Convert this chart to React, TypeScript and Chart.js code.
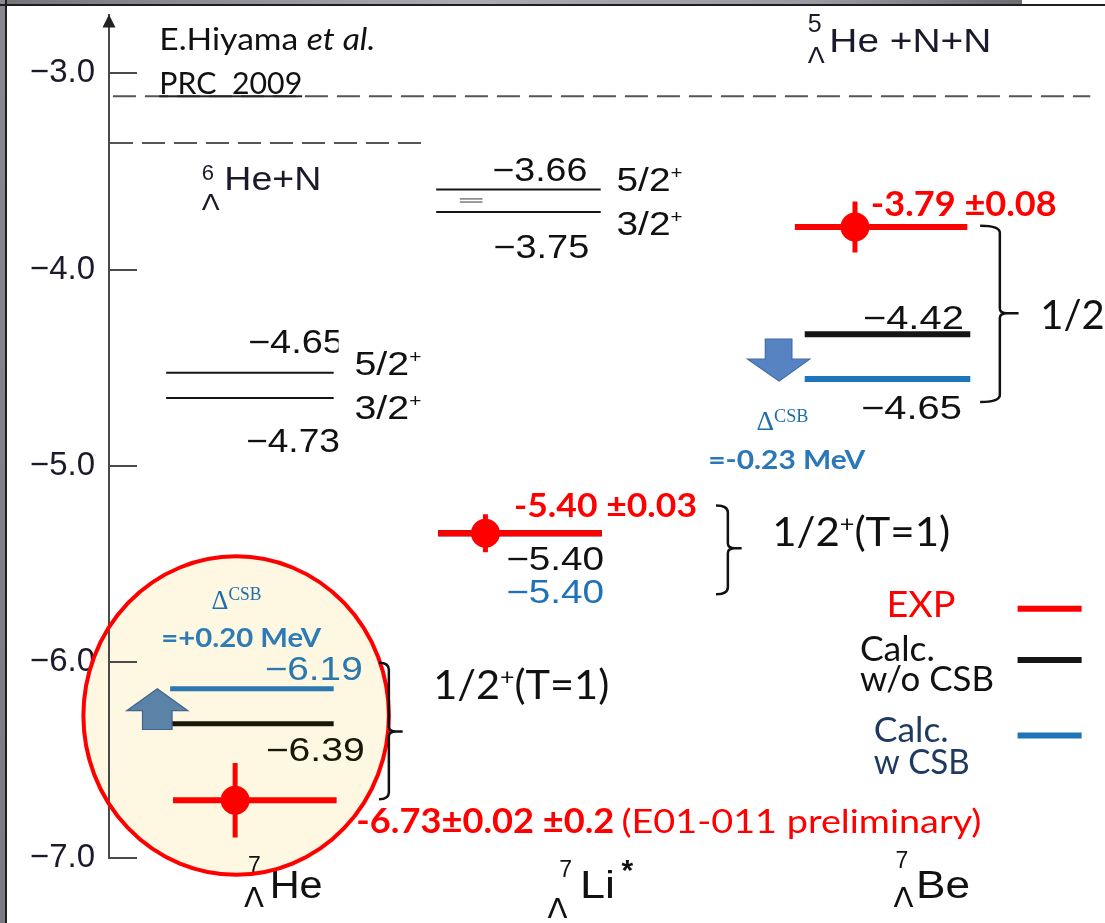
import React, { useEffect, useRef } from "react";
import { Chart, registerables } from "chart.js";

Chart.register(...registerables);

// ---------------- data (energy axis, MeV) ----------------
const categories = ["He", "Li", "Be"];
const categoryMarks = ["", "*", ""];
const massNumber = "7";

const yTickValues = [-7, -6, -5, -4, -3];
const yTickLabels = ["−7.0", "−6.0", "−5.0", "−4.0", "−3.0"];

const thresholdLevels = [-3.117, -3.355];
const thresholdNames = ["He +N+N", "He+N"];
const thresholdMass = ["5", "6"];

const heExcitedLevels = [-4.526, -4.655];
const heExcitedLabels = ["−4.65", "−4.73"];
const liExcitedLevels = [-3.592, -3.707];
const liExcitedLabels = ["−3.66", "−3.75"];
const excitedSpins = ["5/2", "3/2"];

const expLevels = [-6.706, -5.344, -3.783];
const expErrors = [0.19, 0.097, 0.13];
const expLabels = ["-6.73±0.02 ±0.2", "-5.40 ±0.03", "-3.79 ±0.08"];
const expNote = "(E01-011 preliminary)";
const noCsbLevels = [-6.315, -5.344, -4.33];
const noCsbLabels = ["−6.39", "−5.40", "−4.42"];
const csbLevels = [-6.137, -5.344, -4.558];
const csbLabels = ["−6.19", "−5.40", "−4.65"];
const csbShift = ["=+0.20 MeV", "", "=-0.23 MeV"];
const groupSpin = ["1/2", "+", "(T=1)"];
const legendNames = [["EXP"], ["Calc.", "w/o CSB"], ["Calc.", "w CSB"]];
const authorLines = ["E.Hiyama ", "et al.", "PRC  2009"];

// ---------------- layout (x in axis units, y in MeV) ----------------
const X_MAX = 9.96;
const expSpan = [[0.65, 2.31], [3.34, 5.0], [6.96, 8.71]];
const calcSpan = [[0.62, 2.28], [3.34, 5.0], [7.06, 8.74]];
const expDotX = [1.28, 3.82, 7.57];
const heExcSpan = [0.58, 2.28];
const liExcSpan = [3.32, 4.99];
const thresholdSpan = [[0.04, X_MAX], [0.01, 3.21]];
const legendSpan = [9.22, 9.87];
const legendY = [-5.729, -5.99, -6.376];

const RED = "#ff0000";
const BLACK = "#151515";
const BLUE = "#1e74b8";
const NAVY = "#1f3a5f";
const INK = "#1a1a2a";

const HV = '"Liberation Sans", Arial, sans-serif';
const CAL = 'Lato, "Open Sans", sans-serif';
const SER = '"Liberation Serif", serif';
const GR = '"DejaVu Sans", "Liberation Sans", sans-serif';

const seg = (x0: number, x1: number, y: number, color: string, width: number, dash: number[] = []) => ({
  data: [{ x: x0, y }, { x: x1, y }],
  showLine: true,
  borderColor: color,
  backgroundColor: color,
  borderWidth: width,
  borderDash: dash,
  borderCapStyle: "butt",
  pointRadius: 0,
  pointHoverRadius: 0,
});

function buildDatasets() {
  const ds: any[] = [];
  expLevels.forEach((v, i) => {
    ds.push({
      data: [{ x: expDotX[i], y: v }],
      showLine: false,
      pointRadius: 14.5,
      pointHoverRadius: 14.5,
      pointBackgroundColor: RED,
      pointBorderWidth: 0,
    });
  });
  expLevels.forEach((v, i) => {
    ds.push({
      data: [{ x: expDotX[i], y: v - expErrors[i] }, { x: expDotX[i], y: v + expErrors[i] }],
      showLine: true,
      borderColor: RED,
      borderWidth: 5,
      borderCapStyle: "butt",
      pointRadius: 0,
    });
  });
  expLevels.forEach((v, i) => ds.push(seg(expSpan[i][0], expSpan[i][1], v, RED, 6)));
  ds.push(seg(legendSpan[0], legendSpan[1], legendY[0], RED, 6));
  noCsbLevels.forEach((v, i) => ds.push(seg(calcSpan[i][0], calcSpan[i][1], v, i === 0 ? "#1a1608" : BLACK, i === 0 ? 5 : 6)));
  ds.push(seg(legendSpan[0], legendSpan[1], legendY[1], BLACK, 6));
  csbLevels.forEach((v, i) => ds.push(seg(calcSpan[i][0], calcSpan[i][1], v, i === 0 ? "#2a78ad" : BLUE, i === 0 ? 5 : 6)));
  ds.push(seg(legendSpan[0], legendSpan[1], legendY[2], BLUE, 6));
  heExcitedLevels.forEach((v) => ds.push(seg(heExcSpan[0], heExcSpan[1], v, BLACK, 2)));
  liExcitedLevels.forEach((v) => ds.push(seg(liExcSpan[0], liExcSpan[1], v, BLACK, 2)));
  thresholdLevels.forEach((v, i) => ds.push(seg(thresholdSpan[i][0], thresholdSpan[i][1], v, "#555", 2, [23, 9])));
  return ds;
}

type Part = { t: string; f: string; dy?: number; c?: string };

function rich(ctx: CanvasRenderingContext2D, parts: Part[], x: number, y: number, color: string, width?: number) {
  ctx.save();
  ctx.textAlign = "left";
  ctx.textBaseline = "alphabetic";
  let total = 0;
  const ws = parts.map((p) => {
    ctx.font = p.f;
    const w = ctx.measureText(p.t).width;
    total += w;
    return w;
  });
  const s = width ? width / total : 1;
  ctx.translate(x, y);
  ctx.scale(s, 1);
  let cx = 0;
  parts.forEach((p, i) => {
    ctx.font = p.f;
    ctx.fillStyle = p.c || color;
    ctx.fillText(p.t, cx, p.dy || 0);
    cx += ws[i];
  });
  ctx.restore();
}

function brace(ctx: CanvasRenderingContext2D, x0: number, xv: number, xn: number, yT: number, yM: number, yB: number) {
  const r = 7;
  ctx.save();
  ctx.strokeStyle = "#111";
  ctx.lineWidth = 2.5;
  ctx.beginPath();
  ctx.moveTo(x0, yT);
  ctx.quadraticCurveTo(xv, yT, xv, yT + r);
  ctx.lineTo(xv, yM - 5);
  ctx.quadraticCurveTo(xv, yM, xv + 7, yM);
  ctx.lineTo(xn, yM);
  ctx.moveTo(xv + 7, yM);
  ctx.quadraticCurveTo(xv, yM, xv, yM + 5);
  ctx.lineTo(xv, yB - r);
  ctx.quadraticCurveTo(xv, yB, x0, yB);
  ctx.stroke();
  ctx.restore();
}

function blockArrow(
  ctx: CanvasRenderingContext2D,
  s0: number, s1: number, h0: number, h1: number, tipX: number,
  tail: number, base: number, tip: number, fill: string, stroke: string
) {
  ctx.save();
  ctx.beginPath();
  ctx.moveTo(s0, tail);
  ctx.lineTo(s1, tail);
  ctx.lineTo(s1, base);
  ctx.lineTo(h1, base);
  ctx.lineTo(tipX, tip);
  ctx.lineTo(h0, base);
  ctx.lineTo(s0, base);
  ctx.closePath();
  ctx.fillStyle = fill;
  ctx.fill();
  ctx.strokeStyle = stroke;
  ctx.lineWidth = 1.2;
  ctx.stroke();
  ctx.restore();
}

const diagramPlugin = {
  id: "diagram",
  beforeDraw(chart: any) {
    const { ctx, width, height } = chart;
    const X = (u: number) => chart.scales.x.getPixelForValue(u);
    const Y = (v: number) => chart.scales.y.getPixelForValue(v);
    ctx.save();
    ctx.fillStyle = "#ffffff";
    ctx.fillRect(0, 0, width, height);
    // slide frame
    const g = ctx.createLinearGradient(0, 0, 1022, 0);
    g.addColorStop(0, "#75757b");
    g.addColorStop(0.45, "#ababb2");
    g.addColorStop(0.8, "#9a9aa2");
    g.addColorStop(1, "#6c6c72");
    ctx.fillStyle = g;
    ctx.fillRect(0, 0, 1022, 5);
    const g2 = ctx.createLinearGradient(0, 0, 0, height);
    g2.addColorStop(0, "#88888e");
    g2.addColorStop(1, "#7a7a80");
    ctx.fillStyle = g2;
    ctx.fillRect(0, 0, 6, height);
    ctx.fillStyle = "#1e1e1e";
    ctx.fillRect(0, 4, width, 2);
    ctx.fillRect(5, 0, 2, height);
    // highlight ellipse fill
    const cx = X(1.29), cy = Y(-6.274);
    const rx = X(1.29 + 1.55) - cx, ry = Y(-6.274 - 0.812) - cy;
    ctx.beginPath();
    ctx.ellipse(cx, cy, rx, ry, 0, 0, Math.PI * 2);
    ctx.fillStyle = "#fef7e2";
    ctx.fill();
    ctx.restore();
  },
  beforeDatasetsDraw(chart: any) {
    const { ctx } = chart;
    const X = (u: number) => chart.scales.x.getPixelForValue(u);
    const Y = (v: number) => chart.scales.y.getPixelForValue(v);
    const ax = chart.chartArea.left;
    ctx.save();
    // inward tick marks
    ctx.strokeStyle = "#4a4a4a";
    ctx.lineWidth = 2;
    yTickValues.forEach((v) => {
      const y = Math.round(Y(v));
      ctx.beginPath();
      ctx.moveTo(ax, y);
      ctx.lineTo(ax + 28, y);
      ctx.stroke();
    });
    // axis arrow head
    ctx.fillStyle = "#222";
    ctx.beginPath();
    ctx.moveTo(ax, chart.chartArea.top);
    ctx.lineTo(ax - 6.5, chart.chartArea.top + 13);
    ctx.lineTo(ax + 6.5, chart.chartArea.top + 13);
    ctx.closePath();
    ctx.fill();
    ctx.restore();

    // category labels  (7 Λ X)
    const catPos = [
      { m: [1.41, -7.076], n: [1.63, -7.203], w: 53, l: [1.37, -7.249] },
      { m: [4.57, -7.096], n: [4.78, -7.203], w: 35, l: [4.45, -7.305] },
      { m: [7.98, -7.051], n: [8.19, -7.203], w: 54, l: [7.96, -7.249] },
    ];
    categories.forEach((c, i) => {
      const p = catPos[i];
      rich(ctx, [{ t: massNumber, f: `23px ${HV}` }], X(p.m[0]), Y(p.m[1]), "#111");
      rich(ctx, [{ t: c, f: `38px ${HV}` }], X(p.n[0]), Y(p.n[1]), "#111", p.w);
      rich(ctx, [{ t: "Λ", f: `27px ${GR}` }], X(p.l[0]), Y(p.l[1]), "#111", 20);
      if (categoryMarks[i]) {
        rich(ctx, [{ t: categoryMarks[i], f: `bold 30px ${HV}` }], X(5.2), Y(-7.112), "#111");
      }
    });

    // ellipse outline
    const cx = X(1.29), cy = Y(-6.274);
    const rx = X(1.29 + 1.55) - cx, ry = Y(-6.274 - 0.812) - cy;
    ctx.save();
    ctx.beginPath();
    ctx.ellipse(cx, cy, rx, ry, 0, 0, Math.PI * 2);
    ctx.strokeStyle = RED;
    ctx.lineWidth = 4;
    ctx.stroke();
    // small double-dash mark in the Li column
    ctx.strokeStyle = "#7a7a7a";
    ctx.lineWidth = 1.5;
    [-3.64, -3.656].forEach((v) => {
      ctx.beginPath();
      ctx.moveTo(X(3.56), Y(v));
      ctx.lineTo(X(3.79), Y(v));
      ctx.stroke();
    });
    ctx.restore();
  },
  afterDatasetsDraw(chart: any) {
    const { ctx } = chart;
    const X = (u: number) => chart.scales.x.getPixelForValue(u);
    const Y = (v: number) => chart.scales.y.getPixelForValue(v);
    const T = (parts: Part[], u: number, v: number, color: string, w?: number) => rich(ctx, parts, X(u), Y(v), color, w);

    // author
    T([{ t: authorLines[0], f: `30px ${CAL}` }, { t: authorLines[1], f: `italic 30px ${CAL}` }], 0.51, -2.883, "#111", 216);
    T([{ t: authorLines[2], f: `30px ${CAL}` }], 0.51, -3.107, "#111", 143);
    ctx.save();
    ctx.fillStyle = "#222";
    ctx.fillRect(X(0.51), Y(-3.117) - 1, X(1.96) - X(0.51), 2);
    ctx.restore();

    // threshold names
    T([{ t: thresholdMass[0], f: `25px ${HV}` }], 7.09, -2.787, INK);
    T([{ t: thresholdNames[0], f: `33px ${HV}` }], 7.31, -2.893, INK, 162);
    T([{ t: "Λ", f: `22px ${GR}` }], 7.09, -2.949, INK, 17);
    T([{ t: thresholdMass[1], f: `22px ${HV}` }], 0.94, -3.543, INK);
    T([{ t: thresholdNames[1], f: `33px ${HV}` }], 1.17, -3.594, INK, 97);
    T([{ t: "Λ", f: `22px ${GR}` }], 0.94, -3.695, INK, 18);

    // Li excited states
    T([{ t: liExcitedLabels[0], f: `33px ${HV}` }], 3.89, -3.548, "#111", 95);
    T([{ t: liExcitedLabels[1], f: `33px ${HV}` }], 3.9, -3.939, "#111", 96);
    T([{ t: excitedSpins[0], f: `34px ${HV}` }, { t: "+", f: `18px ${HV}`, dy: -12 }], 5.15, -3.599, "#111", 66);
    T([{ t: excitedSpins[1], f: `34px ${HV}` }, { t: "+", f: `18px ${HV}`, dy: -12 }], 5.15, -3.822, "#111", 66);

    // He excited states
    ctx.save();
    ctx.beginPath();
    ctx.rect(0, 0, X(2.33), 1000);
    ctx.clip();
    T([{ t: heExcitedLabels[0], f: `33px ${HV}` }], 1.41, -4.426, "#111", 96);
    ctx.restore();
    T([{ t: heExcitedLabels[1], f: `33px ${HV}` }], 1.39, -4.929, "#111", 94);
    T([{ t: excitedSpins[0], f: `34px ${HV}` }, { t: "+", f: `18px ${HV}`, dy: -12 }], 2.49, -4.538, "#111", 67);
    T([{ t: excitedSpins[1], f: `34px ${HV}` }, { t: "+", f: `18px ${HV}`, dy: -12 }], 2.49, -4.761, "#111", 67);

    // Be column
    T([{ t: expLabels[2], f: `bold 34px ${CAL}` }], 7.73, -3.726, RED, 186);
    T([{ t: noCsbLabels[2], f: `33px ${HV}` }], 7.65, -4.305, "#111", 101);
    T([{ t: csbLabels[2], f: `33px ${HV}` }], 7.63, -4.761, "#111", 101);
    blockArrow(ctx, X(6.66), X(6.93), X(6.48), X(7.11), X(6.8), Y(-4.355), Y(-4.457), Y(-4.569), "#5783c2", "#3f6aa6");
    T([{ t: "Δ", f: `27px ${SER}` }, { t: "CSB", f: `18px ${SER}`, dy: -8 }], 6.57, -4.817, "#1e6fa8", 52);
    T([{ t: csbShift[2], f: `bold 27px ${CAL}` }], 6.08, -5.015, "#2b78b8", 157);
    brace(ctx, X(8.84), X(9.04), X(9.23), Y(-3.777), Y(-4.223), Y(-4.675));
    T([{ t: groupSpin[0], f: `40px ${CAL}` }], 9.45, -4.305, "#111");

    // Li column
    T([{ t: expLabels[1], f: `bold 33px ${CAL}` }], 4.11, -5.264, RED, 183);
    T([{ t: noCsbLabels[1], f: `33px ${HV}` }], 4.03, -5.533, "#111", 98);
    T([{ t: csbLabels[1], f: `33px ${HV}` }], 4.03, -5.701, "#1f72b8", 98);
    brace(ctx, X(6.16), X(6.28), X(6.42), Y(-5.203), Y(-5.421), Y(-5.655));
    T(
      [{ t: groupSpin[0], f: `40px ${CAL}` }, { t: groupSpin[1], f: `24px ${CAL}`, dy: -14 }, { t: groupSpin[2], f: `40px ${CAL}` }],
      6.73, -5.411, "#111", 178
    );

    // He column
    T([{ t: "Δ", f: `27px ${SER}` }, { t: "CSB", f: `18px ${SER}`, dy: -9 }], 1.04, -5.731, "#1e6fa8", 50);
    T([{ t: csbShift[0], f: `bold 27px ${CAL}` }], 0.53, -5.924, "#2e7bb5", 160);
    T([{ t: csbLabels[0], f: `33px ${HV}` }], 1.58, -6.091, "#2a78ad", 98);
    T([{ t: noCsbLabels[0], f: `33px ${HV}` }], 1.59, -6.503, "#1a1608", 99);
    blockArrow(ctx, X(0.34), X(0.64), X(0.18), X(0.8), X(0.49), Y(-6.345), Y(-6.249), Y(-6.137), "#5b83a8", "#40668c");
    brace(ctx, X(2.74), X(2.84), X(2.98), Y(-6.005), Y(-6.355), Y(-6.701));
    T(
      [{ t: groupSpin[0], f: `40px ${CAL}` }, { t: groupSpin[1], f: `24px ${CAL}`, dy: -14 }, { t: groupSpin[2], f: `40px ${CAL}` }],
      3.29, -6.188, "#111", 176
    );
    T([{ t: expLabels[0], f: `bold 34px ${CAL}` }], 2.51, -6.873, RED, 258);
    T([{ t: expNote, f: `33px ${CAL}` }], 5.2, -6.873, RED, 360);

    // legend text
    T([{ t: legendNames[0][0], f: `36px ${CAL}` }], 7.89, -5.772, RED, 69);
    T([{ t: legendNames[1][0], f: `34px ${CAL}` }], 7.62, -5.995, "#111", 75);
    T([{ t: legendNames[1][1], f: `34px ${CAL}` }], 7.62, -6.147, "#111", 134);
    T([{ t: legendNames[2][0], f: `34px ${CAL}` }], 7.76, -6.411, NAVY, 75);
    T([{ t: legendNames[2][1], f: `34px ${CAL}` }], 7.76, -6.574, NAVY, 96);
  },
};

export default function App() {
  const ref = useRef<HTMLCanvasElement>(null);
  useEffect(() => {
    const canvas = ref.current;
    if (!canvas) return;
    const chart = new Chart(canvas, {
      type: "scatter",
      data: { datasets: buildDatasets() },
      options: {
        responsive: false,
        animation: false,
        devicePixelRatio: 1,
        events: [],
        layout: { padding: { top: 11, bottom: 65, left: 0, right: 0 } },
        plugins: { legend: { display: false }, tooltip: { enabled: false } },
        scales: {
          x: { type: "linear", display: false, min: 0, max: X_MAX },
          y: {
            type: "linear",
            min: -7,
            max: -2.7,
            afterBuildTicks: (s: any) => {
              s.ticks = yTickValues.map((v) => ({ value: v }));
            },
            afterFit: (s: any) => {
              s.width = 109;
              s.paddingTop = 0;
              s.paddingBottom = 0;
            },
            grid: { display: false, drawTicks: false },
            border: { display: true, color: "#4a4a4a", width: 2 },
            ticks: {
              padding: 14,
              color: INK,
              font: { family: "Liberation Sans", size: 33 },
              callback: (v: any) => {
                const i = yTickValues.indexOf(Number(v));
                return i >= 0 ? yTickLabels[i] : "";
              },
            },
          },
        },
      } as any,
      plugins: [diagramPlugin],
    });
    return () => chart.destroy();
  }, []);
  return (
    <div style={{ position: "fixed", left: 0, top: 0, width: 1105, height: 923, background: "#fff" }}>
      <canvas ref={ref} width={1105} height={923} style={{ display: "block", width: 1105, height: 923 }} />
    </div>
  );
}
